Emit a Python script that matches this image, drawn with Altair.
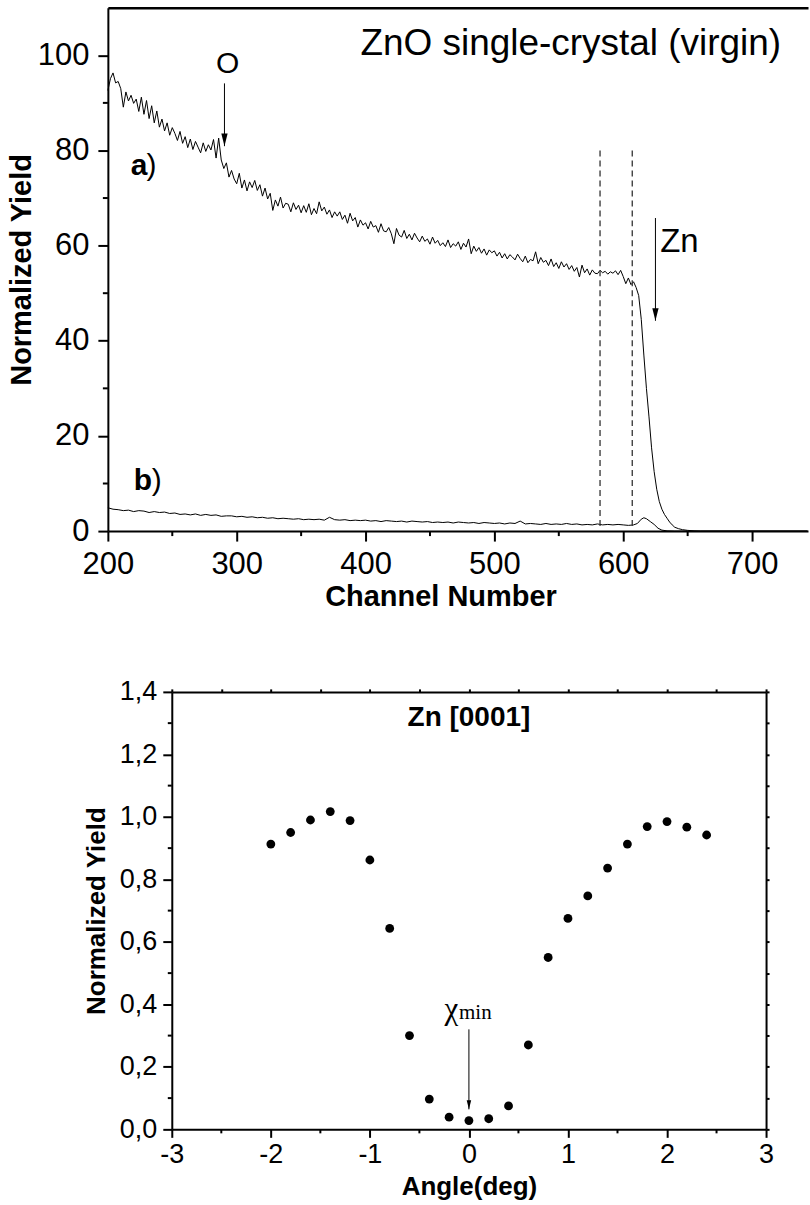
import altair as alt
import pandas as pd

FONT = "Liberation Sans"

# ---------------- top panel: RBS spectra ----------------
A_CH = list(range(200, 612, 2)) + [612, 614, 616, 618, 620, 622, 624, 626, 628, 630,
                                    632, 634, 636, 638, 640, 643, 646, 650, 655, 660, 743]
A_VAL = [
    92.6, 95.1, 96.3, 94.2, 94.5, 93.0, 89.1, 92.3, 90.4, 91.6,
    89.9, 90.8, 88.2, 91.2, 87.6, 90.5, 86.7, 89.4, 85.8, 88.3,
    84.9, 86.6, 84.1, 85.8, 83.2, 84.8, 83.6, 82.1, 84.0, 81.5,
    82.9, 80.6, 82.4, 80.2, 81.9, 80.7, 79.5, 81.6, 79.8, 81.2,
    80.1, 82.3, 78.4, 82.6, 78.0, 76.2, 77.4, 74.4, 75.8, 74.0,
    73.0, 75.2, 72.1, 73.8, 71.5, 73.4, 72.2, 73.7, 71.6, 72.8,
    70.4, 72.1, 69.8, 71.0, 67.4, 69.6, 68.3, 70.2, 67.9, 68.9,
    68.7, 67.1, 69.0, 67.6, 68.5, 66.9, 68.4, 67.0, 68.8, 66.5,
    67.8, 66.7, 69.2, 67.3, 68.1, 66.6, 67.5, 65.9, 67.1, 66.2,
    67.1, 65.5, 66.4, 64.7, 66.8, 65.2, 65.9, 63.9, 65.4, 64.3,
    64.8, 63.5, 65.1, 63.9, 64.2, 62.8, 64.6, 63.1, 62.9, 63.8,
    62.5, 60.4, 63.6, 62.2, 61.8, 63.2, 61.5, 62.4, 61.2, 62.6,
    61.6, 60.8, 62.0, 60.9, 61.4, 60.3, 61.8, 60.5, 61.1, 60.0,
    60.6, 59.8, 61.2, 59.6, 60.4, 59.9, 60.8, 59.2, 60.5, 59.7,
    61.4, 58.3, 59.9, 58.8, 59.6, 58.4, 59.3, 58.0, 59.1, 58.5,
    58.9, 57.8, 58.6, 57.4, 58.3, 57.2, 58.1, 57.6, 57.0, 58.2,
    57.3, 56.6, 57.8, 56.4, 57.1, 56.8, 58.7, 56.2, 57.5, 56.5,
    56.9, 55.8, 57.2, 55.6, 56.4, 55.2, 56.6, 55.5, 56.2, 55.0,
    55.8, 54.6, 55.4, 53.4, 55.9, 54.3, 55.1, 53.8, 54.9, 54.2,
    54.1, 54.8, 54.3, 54.6, 54.0, 54.5, 54.2, 54.7, 53.9, 54.8,
    53.5, 52.0, 53.2, 51.8, 52.4, 51.2,
    49.5, 44.5, 37.0, 30.0, 24.0, 17.5, 12.5, 8.8, 6.2, 4.6,
    3.5, 2.7, 1.9, 1.3, 0.8, 0.5, 0.3, 0.15, 0.05, 0.0, 0.0,
]

B_CH = list(range(200, 612, 4)) + [611, 614, 616, 618, 621, 624, 627, 630, 634, 640, 743]
B_VAL = [
    4.9, 4.6, 4.5, 4.3, 4.4, 4.1, 4.3, 4.2, 3.9, 4.1,
    3.9, 4.0, 3.7, 3.8, 3.5, 3.6, 3.4, 3.6, 3.3, 3.5,
    3.3, 3.4, 3.1, 3.2, 3.2, 3.0, 3.1, 2.9, 3.0, 2.8,
    2.9, 2.7, 2.8, 2.6, 2.7, 2.6, 2.5, 2.6, 2.4, 2.5,
    2.4, 2.5, 2.3, 2.9, 2.4, 2.3, 2.4, 2.2, 2.3, 2.2,
    2.3, 2.1, 2.2, 2.0, 2.2, 2.1, 2.0, 2.1, 1.9, 2.1,
    2.0, 1.9, 2.0, 1.8, 1.9, 1.8, 1.9, 1.7, 1.9, 1.8,
    1.7, 1.8, 1.6, 1.8, 1.7, 1.6, 1.7, 1.5, 1.7, 1.6,
    2.1, 1.5, 1.6, 1.5, 1.4, 1.6, 1.4, 1.5, 1.4, 1.6,
    1.4, 1.5, 1.3, 1.4, 1.3, 1.5, 1.3, 1.4, 1.3, 1.4,
    1.3, 1.2, 1.3,
    1.6, 2.5, 2.8, 2.6, 2.0, 1.4, 0.6, 0.2, 0.05, 0.0, 0.0,
]

X1_MAJOR = [200, 300, 400, 500, 600, 700]
X1_MINOR = [250, 350, 450, 550, 650]
Y1_MAJOR = [0, 20, 40, 60, 80, 100]
Y1_MINOR = [10, 30, 50, 70, 90]

DASH_CH = [582, 607]
DASH_TOP = [80, 80]
DASH_BOTTOM = [1, 1]

ARROW_CH = [290.5, 625]
ARROW_FROM = [94.1, 65.8]
ARROW_TO = [80.9, 44.2]

# ---------------- bottom panel: angular scan ----------------
ANGLE = [-2.0, -1.8, -1.6, -1.4, -1.2, -1.0, -0.8, -0.6, -0.4, -0.2, 0.0, 0.2,
         0.4, 0.6, 0.8, 1.0, 1.2, 1.4, 1.6, 1.8, 2.0, 2.2, 2.4]
YIELD = [0.913, 0.950, 0.990, 1.017, 0.988, 0.862, 0.643, 0.300, 0.097, 0.039,
         0.028, 0.034, 0.075, 0.270, 0.550, 0.675, 0.747, 0.836, 0.913, 0.969,
         0.985, 0.967, 0.942]

X2_MAJOR = [-3, -2, -1, 0, 1, 2, 3]
X2_MINOR = [-2.5, -1.5, -0.5, 0.5, 1.5, 2.5]
X2_TOP = [-3, -2.5, -2, -1.5, -1, -0.5, 0, 0.5, 1, 1.5, 2, 2.5, 3]
Y2_MAJOR = [0.0, 0.2, 0.4, 0.6, 0.8, 1.0, 1.2, 1.4]
Y2_MINOR = [0.1, 0.3, 0.5, 0.7, 0.9, 1.1, 1.3]
Y2_RIGHT = [0.0, 0.1, 0.2, 0.3, 0.4, 0.5, 0.6, 0.7, 0.8, 0.9, 1.0, 1.1, 1.2, 1.3, 1.4]

# ---------------- geometry ----------------
W1, H1 = 701, 524
W2, H2 = 595, 438
X1_MAX = 200 + W1 / 1.29

xs1 = alt.Scale(domain=[200, X1_MAX], nice=False, zero=False)
ys1 = alt.Scale(domain=[0, 110], nice=False, zero=False)

ax_bottom1 = alt.Axis(orient="bottom", values=X1_MAJOR, grid=False, tickSize=10, tickWidth=2,
                      domainWidth=2, domainColor="black", tickColor="black",
                      labelFont=FONT, labelFontSize=31, labelColor="black", labelPadding=8,
                      labelFlush=False, title="Channel Number", titleFont=FONT,
                      titleFontSize=29, titleFontWeight="bold", titleColor="black",
                      titlePadding=4, titleX=333)
ax_left1 = alt.Axis(orient="left", values=Y1_MAJOR, grid=False, tickSize=10, tickWidth=2,
                    domainWidth=2, domainColor="black", tickColor="black",
                    labelFont=FONT, labelFontSize=31, labelColor="black", labelPadding=9,
                    labelFlush=False, title="Normalized Yield", titleFont=FONT,
                    titleFontSize=29, titleFontWeight="bold", titleColor="black",
                    titlePadding=1)
ax_top1 = alt.Axis(orient="top", grid=False, ticks=False, labels=False, domainWidth=2.5,
                   domainColor="black", title=None)

dfa = pd.DataFrame({"ch": A_CH, "y": A_VAL})
dfb = pd.DataFrame({"ch": B_CH, "y": B_VAL})

line_a = alt.Chart(dfa).mark_line(color="black", strokeWidth=1).encode(
    x=alt.X("ch:Q", scale=xs1, axis=ax_bottom1),
    y=alt.Y("y:Q", scale=ys1, axis=ax_left1),
)
line_b = alt.Chart(dfb).mark_line(color="black", strokeWidth=1).encode(
    x=alt.X("ch:Q", scale=xs1, axis=ax_top1),
    y=alt.Y("y:Q", scale=ys1, axis=None),
)

x_minor1 = alt.Chart(pd.DataFrame({"ch": X1_MINOR})).mark_rule(color="black", strokeWidth=2).encode(
    x=alt.X("ch:Q", scale=xs1, axis=None),
    y=alt.value(H1), y2=alt.value(H1 + 5),
)
y_minor1 = alt.Chart(pd.DataFrame({"v": Y1_MINOR})).mark_rule(color="black", strokeWidth=2).encode(
    y=alt.Y("v:Q", scale=ys1, axis=None),
    x=alt.value(-5), x2=alt.value(0),
)

dashes = alt.Chart(pd.DataFrame({"ch": DASH_CH, "y0": DASH_TOP, "y1": DASH_BOTTOM})).mark_rule(
    color="#333333", strokeWidth=1.3, strokeDash=[6, 4]).encode(
    x=alt.X("ch:Q", scale=xs1, axis=None),
    y=alt.Y("y0:Q", scale=ys1, axis=None), y2="y1:Q",
)

ARROW_SHAPE = "M-0.25,-1L0.25,-1L0,0Z"
dfarr = pd.DataFrame({"ch": ARROW_CH, "y0": ARROW_FROM, "y1": ARROW_TO})
arrow_lines = alt.Chart(dfarr).mark_rule(color="black", strokeWidth=1).encode(
    x=alt.X("ch:Q", scale=xs1, axis=None),
    y=alt.Y("y0:Q", scale=ys1, axis=None), y2="y1:Q",
)
arrow_heads = alt.Chart(dfarr).mark_point(shape=ARROW_SHAPE, filled=True, size=640,
                                          color="black", opacity=1, strokeWidth=0).encode(
    x=alt.X("ch:Q", scale=xs1, axis=None),
    y=alt.Y("y1:Q", scale=ys1, axis=None),
)


def txt(df, **kw):
    return alt.Chart(df).mark_text(font=FONT, color="black", **kw).encode(
        x=alt.X("x:Q", scale=xs1, axis=None),
        y=alt.Y("y:Q", scale=ys1, axis=None),
        text="t:N",
    )


t_title = txt(pd.DataFrame({"x": [396], "y": [100], "t": ["ZnO single-crystal (virgin)"]}),
              fontSize=37, align="left", baseline="alphabetic")
t_O = txt(pd.DataFrame({"x": [293], "y": [96.2], "t": ["O"]}),
          fontSize=30, align="center", baseline="alphabetic")
t_ab = txt(pd.DataFrame({"x": [217.8, 220], "y": [74.8, 8.6], "t": ["a", "b"]}),
           fontSize=30, fontWeight="bold", align="left", baseline="alphabetic")
t_par = txt(pd.DataFrame({"x": [230.0, 234.0], "y": [74.8, 8.6], "t": [")", ")"]}),
            fontSize=30, align="left", baseline="alphabetic")
t_zn = txt(pd.DataFrame({"x": [628.7], "y": [58.6], "t": ["Zn"]}),
           fontSize=33, align="left", baseline="alphabetic")

top = alt.layer(line_a, line_b, x_minor1, y_minor1, dashes, arrow_lines, arrow_heads,
                t_title, t_O, t_ab, t_par, t_zn).resolve_axis(x="independent", y="independent").properties(
    width=W1, height=H1)

# ---------------- bottom chart ----------------
xs2 = alt.Scale(domain=[-3, 3], nice=False, zero=False)
ys2 = alt.Scale(domain=[0, 1.4], nice=False, zero=False)

ax_bottom2 = alt.Axis(orient="bottom", values=X2_MAJOR, grid=False, tickSize=8, tickWidth=2,
                      domainWidth=2, domainColor="black", tickColor="black",
                      labelFont=FONT, labelFontSize=27, labelColor="black", labelPadding=4,
                      labelFlush=False, labelExpr="datum.value + ''",
                      title="Angle(deg)", titleFont=FONT, titleFontSize=26,
                      titleFontWeight="bold", titleColor="black", titlePadding=6)
ax_left2 = alt.Axis(orient="left", values=Y2_MAJOR, grid=False, tickSize=9, tickWidth=2,
                    domainWidth=2, domainColor="black", tickColor="black",
                    labelFont=FONT, labelFontSize=27, labelColor="black", labelPadding=6,
                    labelFlush=False,
                    labelExpr="replace(format(datum.value, '.1f'), '.', ',')",
                    title="Normalized Yield", titleFont=FONT, titleFontSize=26,
                    titleFontWeight="bold", titleColor="black", titlePadding=10)
ax_top2 = alt.Axis(orient="top", values=X2_TOP, grid=False, tickSize=3, tickWidth=2,
                   labels=False, domainWidth=2, domainColor="black", tickColor="black", title=None)
ax_right2 = alt.Axis(orient="right", values=Y2_RIGHT, grid=False, tickSize=3, tickWidth=2,
                     labels=False, domainWidth=2, domainColor="black", tickColor="black", title=None)

dfp = pd.DataFrame({"a": ANGLE, "y": YIELD})
pts = alt.Chart(dfp).mark_circle(size=78, color="black", opacity=1).encode(
    x=alt.X("a:Q", scale=xs2, axis=ax_bottom2),
    y=alt.Y("y:Q", scale=ys2, axis=ax_left2),
)

CHI_X = [0.0]
CHI_FROM = [0.32]
CHI_TO = [0.064]
dfchi = pd.DataFrame({"a": CHI_X, "y0": CHI_FROM, "y1": CHI_TO})
chi_line = alt.Chart(dfchi).mark_rule(color="black", strokeWidth=1).encode(
    x=alt.X("a:Q", scale=xs2, axis=ax_top2),
    y=alt.Y("y0:Q", scale=ys2, axis=ax_right2), y2="y1:Q",
)
chi_head = alt.Chart(dfchi).mark_point(shape=ARROW_SHAPE, filled=True, size=324,
                                       color="black", opacity=1, strokeWidth=0).encode(
    x=alt.X("a:Q", scale=xs2, axis=None),
    y=alt.Y("y1:Q", scale=ys2, axis=None),
)

x_minor2 = alt.Chart(pd.DataFrame({"a": X2_MINOR})).mark_rule(color="black", strokeWidth=2).encode(
    x=alt.X("a:Q", scale=xs2, axis=None),
    y=alt.value(H2), y2=alt.value(H2 + 4),
)
y_minor2 = alt.Chart(pd.DataFrame({"v": Y2_MINOR})).mark_rule(color="black", strokeWidth=2).encode(
    y=alt.Y("v:Q", scale=ys2, axis=None),
    x=alt.value(-4), x2=alt.value(0),
)


def txt2(df, **kw):
    return alt.Chart(df).mark_text(color="black", **kw).encode(
        x=alt.X("x:Q", scale=xs2, axis=None),
        y=alt.Y("y:Q", scale=ys2, axis=None),
        text="t:N",
    )


t_zn2 = txt2(pd.DataFrame({"x": [0.0], "y": [1.29], "t": ["Zn [0001]"]}),
             font=FONT, fontSize=28, fontWeight="bold", align="center", baseline="alphabetic")
t_chi = txt2(pd.DataFrame({"x": [-0.107], "y": [0.352], "t": ["χ"]}),
             font="Liberation Serif", fontSize=31, align="right", baseline="alphabetic")
t_min = txt2(pd.DataFrame({"x": [-0.1], "y": [0.352], "t": ["min"]}),
             font="Liberation Serif", fontSize=21, align="left", baseline="alphabetic")

bottom = alt.layer(pts, chi_line, chi_head, x_minor2, y_minor2, t_zn2, t_chi, t_min).resolve_axis(
    x="independent", y="independent").properties(width=W2, height=H2)

spacer = alt.Chart(pd.DataFrame({"v": [0]})).mark_point(opacity=0).encode(
    x=alt.X("v:Q", axis=None), y=alt.Y("v:Q", axis=None)).properties(width=64, height=H2)

bottom_row = alt.hconcat(spacer, bottom, spacing=0, bounds="flush")

chart = alt.vconcat(top, bottom_row, spacing=161, bounds="flush").properties(
    padding={"left": 7, "top": 7, "right": 0, "bottom": 0},
    background="white",
).configure_view(strokeWidth=0)

chart.save("out.html", embed_options={"renderer": "svg", "actions": False})
